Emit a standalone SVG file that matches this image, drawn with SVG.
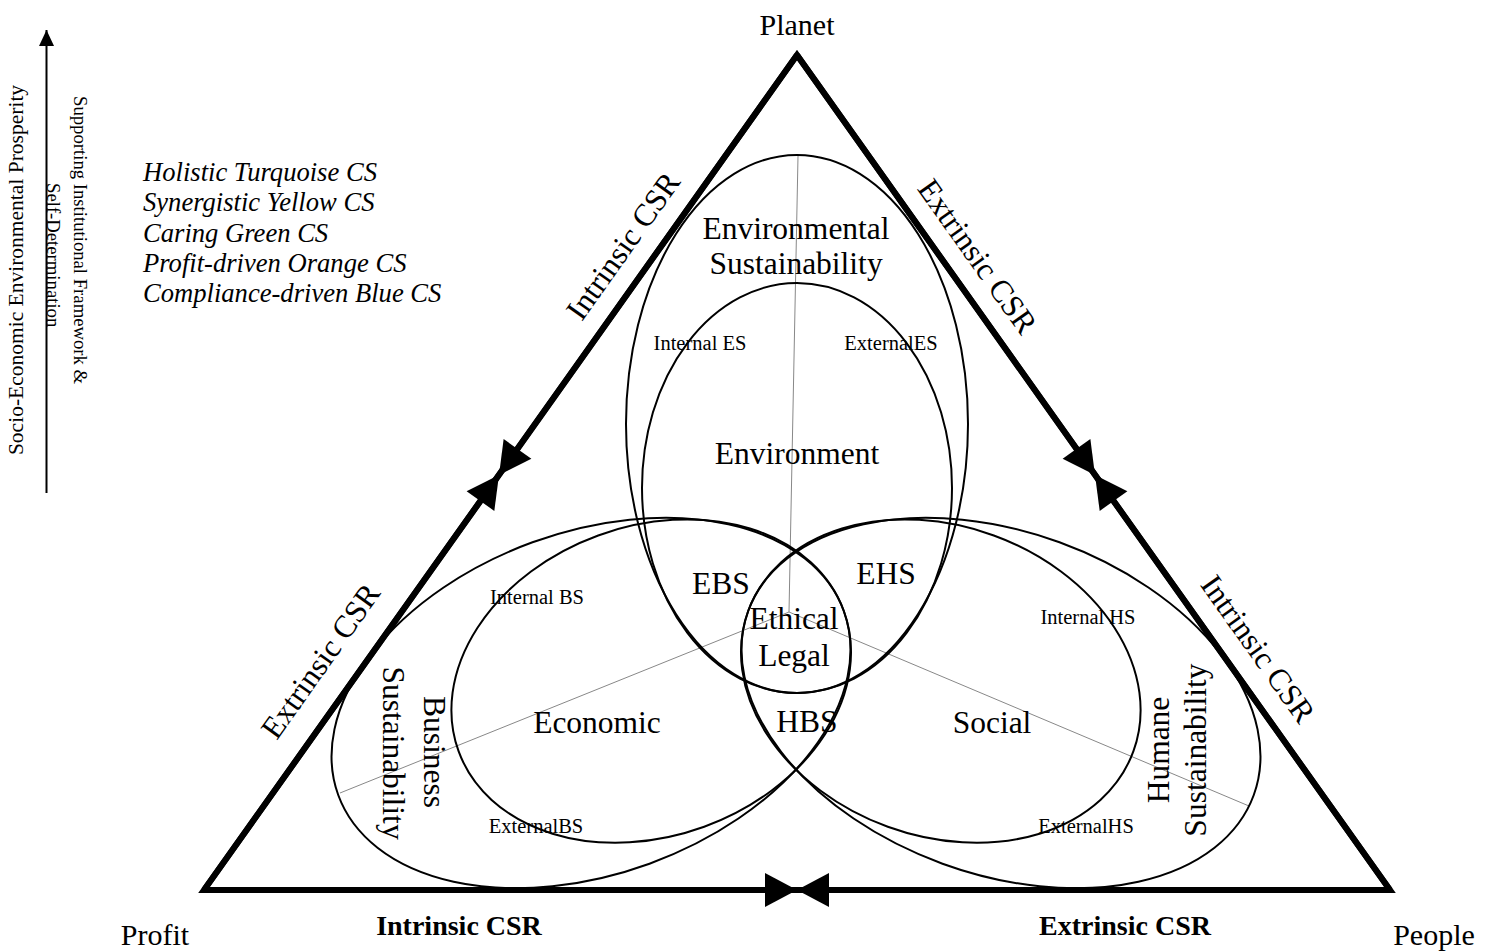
<svg xmlns="http://www.w3.org/2000/svg" width="1494" height="951" viewBox="0 0 1494 951">
<style>
.t{font-family:"Liberation Serif","Times New Roman",serif;fill:#000}
.big{font-size:31.5px}
.sm{font-size:20.5px}
.it{font-style:italic;font-size:26.6px}
.bd{font-weight:bold;font-size:28px}
.corner{font-size:30px}
.ell{fill:none;stroke:#000;stroke-width:2}
.axis{stroke:#888;stroke-width:1;fill:none}
.edge{fill:none;stroke:#000;stroke-width:6}
</style>
<defs>
<marker id="ah" markerUnits="userSpaceOnUse" markerWidth="32" markerHeight="34" refX="32" refY="17" orient="auto" overflow="visible">
<path d="M0,0 L32,17 L0,34 Z" fill="#000"/>
</marker>
<marker id="ahs" markerUnits="userSpaceOnUse" markerWidth="16" markerHeight="15" refX="16" refY="7.5" orient="auto" overflow="visible">
<path d="M0,0 L16,7.5 L0,15 Z" fill="#000"/>
</marker>
</defs>
<rect width="1494" height="951" fill="#fff"/>

<g id="axes">
<line class="axis" x1="798" y1="156" x2="789" y2="612"/>
<line class="axis" x1="789" y1="612" x2="340" y2="793"/>
<line class="axis" x1="789" y1="612" x2="1249" y2="806"/>
</g>

<g id="environmental-sustainability">
<ellipse class="ell" cx="797" cy="424" rx="171" ry="269"/>
<text class="t big" x="796" y="239" text-anchor="middle">Environmental</text>
<text class="t big" x="796" y="274" text-anchor="middle">Sustainability</text>
<text class="t sm" x="700" y="350" text-anchor="middle">Internal ES</text>
<text class="t sm" x="891" y="350" text-anchor="middle">ExternalES</text>
</g>
<g id="environment">
<ellipse class="ell" cx="797" cy="488" rx="155" ry="205"/>
<text class="t big" x="797" y="464" text-anchor="middle">Environment</text>
</g>

<g id="business-sustainability">
<ellipse class="ell" cx="591" cy="703" rx="269" ry="171" transform="rotate(-20 591 703)"/>
<text class="t big" transform="translate(424 752) rotate(90)" text-anchor="middle">Business</text>
<text class="t big" transform="translate(383 753) rotate(90)" text-anchor="middle">Sustainability</text>
<text class="t sm" x="537" y="604" text-anchor="middle">Internal BS</text>
<text class="t sm" x="536" y="833" text-anchor="middle">ExternalBS</text>
</g>
<g id="economic">
<ellipse class="ell" cx="651.2" cy="681.1" rx="205" ry="155" transform="rotate(-20 651.2 681.1)"/>
<text class="t big" x="597" y="733" text-anchor="middle">Economic</text>
</g>

<g id="humane-sustainability">
<ellipse class="ell" cx="1001" cy="703" rx="269" ry="171" transform="rotate(20 1001 703)"/>
<text class="t big" transform="translate(1169 750) rotate(-90)" text-anchor="middle">Humane</text>
<text class="t big" transform="translate(1206 750) rotate(-90)" text-anchor="middle">Sustainability</text>
<text class="t sm" x="1088" y="624" text-anchor="middle">Internal HS</text>
<text class="t sm" x="1086" y="833" text-anchor="middle">ExternalHS</text>
</g>
<g id="social">
<ellipse class="ell" cx="940.8" cy="681.1" rx="205" ry="155" transform="rotate(20 940.8 681.1)"/>
<text class="t big" x="992" y="733" text-anchor="middle">Social</text>
</g>

<g id="overlaps">
<text class="t big" x="721" y="594" text-anchor="middle">EBS</text>
<text class="t big" x="886" y="584" text-anchor="middle">EHS</text>
<text class="t big" x="807" y="732" text-anchor="middle">HBS</text>
</g>
<g id="ethical-legal">
<text class="t big" x="794" y="629" text-anchor="middle">Ethical</text>
<text class="t big" x="794" y="666" text-anchor="middle">Legal</text>
</g>

<g id="connectors">
<polygon class="edge" points="797,55 1390,890 204,890" stroke-linejoin="miter"/>
<path class="edge" d="M797,55 L499,475" marker-end="url(#ah)"/>
<path class="edge" d="M204,890 L499,475" marker-end="url(#ah)"/>
<path class="edge" d="M797,55 L1095,475" marker-end="url(#ah)"/>
<path class="edge" d="M1390,890 L1095,475" marker-end="url(#ah)"/>
<path class="edge" d="M204,890 L797,890" marker-end="url(#ah)"/>
<path class="edge" d="M1390,890 L797,890" marker-end="url(#ah)"/>
<path d="M46.5,493 L46.5,30" stroke="#000" stroke-width="2" fill="none" marker-end="url(#ahs)"/>
</g>

<g id="edge-labels">
<text class="t big" transform="translate(623 246) rotate(-54.62)" x="0" y="10.5" text-anchor="middle">Intrinsic CSR</text>
<text class="t big" transform="translate(977.5 256.5) rotate(54.62)" x="0" y="10.5" text-anchor="middle">Extrinsic CSR</text>
<text class="t big" transform="translate(320.5 661) rotate(-54.62)" x="0" y="10.5" text-anchor="middle">Extrinsic CSR</text>
<text class="t big" transform="translate(1258 649) rotate(54.62)" x="0" y="10.5" text-anchor="middle">Intrinsic CSR</text>
<text class="t bd" x="459" y="935" text-anchor="middle">Intrinsic CSR</text>
<text class="t bd" x="1125" y="935" text-anchor="middle">Extrinsic CSR</text>
</g>

<g id="corners">
<text class="t corner" x="797" y="35" text-anchor="middle">Planet</text>
<text class="t corner" x="155" y="945" text-anchor="middle">Profit</text>
<text class="t corner" x="1434" y="945" text-anchor="middle">People</text>
</g>

<g id="legend">
<text class="t it" x="143" y="181">Holistic Turquoise CS</text>
<text class="t it" x="143" y="211">Synergistic Yellow CS</text>
<text class="t it" x="143" y="242">Caring Green CS</text>
<text class="t it" x="143" y="272">Profit-driven Orange CS</text>
<text class="t it" x="143" y="302">Compliance-driven Blue CS</text>
</g>

<g id="side-axis">
<text class="t" style="font-size:21.5px" transform="translate(23 270) rotate(-90)" text-anchor="middle">Socio-Economic Environmental Prosperity</text>
<text class="t" style="font-size:18.7px" transform="translate(74 96) rotate(90)">Supporting Institutional Framework &amp;</text>
<text class="t" style="font-size:18.7px" transform="translate(47 183) rotate(90)">Self-Determination</text>
</g>
</svg>
